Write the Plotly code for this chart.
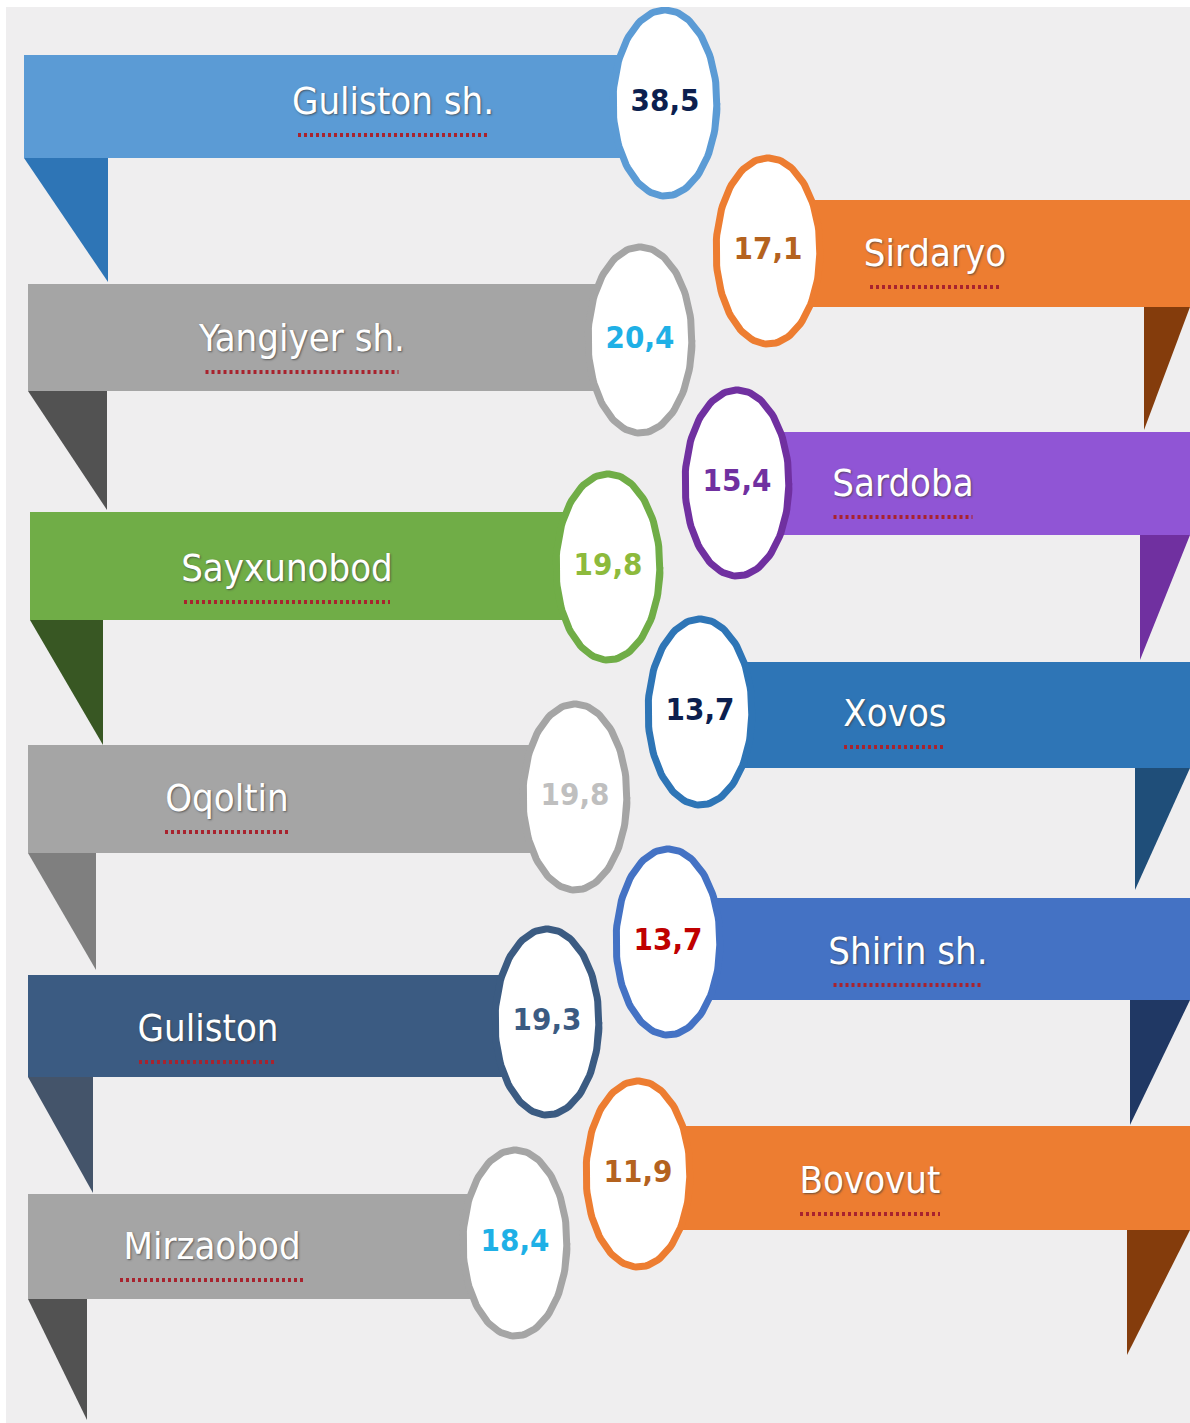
import numpy as np
import plotly.graph_objects as go

# ---------------- data ----------------
left_names = ["Guliston sh.", "Yangiyer sh.", "Sayxunobod", "Oqoltin", "Guliston", "Mirzaobod"]
left_values = [38.5, 20.4, 19.8, 19.8, 19.3, 18.4]
right_names = ["Sirdaryo", "Sardoba", "Xovos", "Shirin sh.", "Bovovut"]
right_values = [17.1, 15.4, 13.7, 13.7, 11.9]

# ---------------- layout (pixel-like data space) ----------------
W, H = 1190, 1423
X0, Y0 = 6, 7
# left ribbons
L_top = [55, 284, 512, 745, 975, 1194]
L_bot = [158, 391, 620, 853, 1077, 1299]
L_x = [24, 28, 30, 28, 28, 28]
L_fold_x = [108, 107, 103, 96, 93, 87]
L_fold_end = [282, 510, 745, 970, 1193, 1420]
L_cx = [665, 640, 608, 575, 547, 515]
L_cy = [103, 340, 567, 797, 1022, 1243]
L_lab_x = [393, 302, 287, 227, 208, 212]
L_lab_y = [104, 341, 571, 801, 1031, 1249]
L_lab_w = [190, 193, 206, 124, 138, 184]
# right ribbons
R_top = [200, 432, 662, 898, 1126]
R_bot = [307, 535, 768, 1000, 1230]
R_fold_x = [1144, 1140, 1135, 1130, 1127]
R_fold_end = [430, 660, 890, 1125, 1355]
R_cx = [768, 737, 700, 668, 638]
R_cy = [251, 483, 712, 942, 1174]
R_lab_x = [935, 903, 895, 908, 870]
R_lab_y = [256, 486, 716, 954, 1183]
R_lab_w = [130, 139, 102, 149, 140]

ELL_W, ELL_H = 104, 186
UL_OFF = 31

# styles
L_bar_col = ['#5b9bd5', '#a5a5a5', '#70ad47', '#a5a5a5', '#3b5b82', '#a5a5a5']
L_fold_col = ['#2e75b6', '#525252', '#385723', '#7f7f7f', '#44546a', '#525252']
L_ring_col = ['#5b9bd5', '#a5a5a5', '#70ad47', '#a5a5a5', '#3b5b82', '#a5a5a5']
L_val_col = ['#0c1f4f', '#1fb0e6', '#8dba3c', '#bfbfbf', '#3b5b82', '#1fb0e6']
R_bar_col = ['#ed7d31', '#9055d5', '#2e75b6', '#4472c4', '#ed7d31']
R_fold_col = ['#843c0c', '#7030a0', '#1f4e79', '#203864', '#843c0c']
R_ring_col = ['#ed7d31', '#7030a0', '#2e75b6', '#4472c4', '#ed7d31']
R_val_col = ['#b4621e', '#7030a0', '#0c1f4f', '#c00000', '#b4621e']

LAB_FONT = "DejaVu Sans Condensed, Liberation Sans Narrow, Arial Narrow, sans-serif"

fig = go.Figure()

# folds (triangles)
for i in range(len(left_names)):
    fig.add_trace(go.Scatter(
        x=[L_x[i], L_fold_x[i], L_fold_x[i], L_x[i]],
        y=[L_bot[i], L_bot[i], L_fold_end[i], L_bot[i]],
        mode='lines', fill='toself', fillcolor=L_fold_col[i],
        line=dict(width=0, color=L_fold_col[i]), hoverinfo='skip', showlegend=False))
for i in range(len(right_names)):
    fig.add_trace(go.Scatter(
        x=[R_fold_x[i], W, R_fold_x[i], R_fold_x[i]],
        y=[R_bot[i], R_bot[i], R_fold_end[i], R_bot[i]],
        mode='lines', fill='toself', fillcolor=R_fold_col[i],
        line=dict(width=0, color=R_fold_col[i]), hoverinfo='skip', showlegend=False))

# ribbons as horizontal bars
fig.add_trace(go.Bar(
    orientation='h',
    y=[(t + b) / 2 for t, b in zip(L_top, L_bot)],
    x=[cx - x for cx, x in zip(L_cx, L_x)],
    base=L_x,
    width=[b - t for t, b in zip(L_top, L_bot)],
    marker=dict(color=L_bar_col, line=dict(width=0)),
    customdata=left_values, hovertext=left_names,
    hovertemplate='%{hovertext}: %{customdata}<extra></extra>',
    showlegend=False))
fig.add_trace(go.Bar(
    orientation='h',
    y=[(t + b) / 2 for t, b in zip(R_top, R_bot)],
    x=[W - cx for cx in R_cx],
    base=R_cx,
    width=[b - t for t, b in zip(R_top, R_bot)],
    marker=dict(color=R_bar_col, line=dict(width=0)),
    customdata=right_values, hovertext=right_names,
    hovertemplate='%{hovertext}: %{customdata}<extra></extra>',
    showlegend=False))

# spell-check style wavy underlines under the labels
for lx, ly, lw in zip(L_lab_x + R_lab_x, L_lab_y + R_lab_y, L_lab_w + R_lab_w):
    fig.add_trace(go.Scatter(
        x=[lx - lw / 2, lx + lw / 2], y=[ly + UL_OFF, ly + UL_OFF],
        mode='lines', line=dict(color='#a8232e', width=4, dash='3px,3px'),
        hoverinfo='skip', showlegend=False))

# ellipses
t = np.linspace(0, 2 * np.pi + 0.3, 140)
def ellipse(cx, cy, col):
    fig.add_trace(go.Scatter(
        x=cx + ELL_W / 2 * np.cos(t), y=cy + ELL_H / 2 * np.sin(t),
        mode='lines', fill='toself', fillcolor='white',
        line=dict(color=col, width=7), hoverinfo='skip', showlegend=False))

for i in range(len(left_names)):
    ellipse(L_cx[i], L_cy[i], L_ring_col[i])
for i in range(len(right_names)):
    ellipse(R_cx[i], R_cy[i], R_ring_col[i])

def fmt(v):
    return f"{v:.1f}".replace('.', ',')

# value labels
fig.add_trace(go.Scatter(
    x=L_cx + R_cx, y=L_cy + R_cy, mode='text',
    text=[fmt(v) for v in left_values + right_values],
    textposition='middle center',
    textfont=dict(family=LAB_FONT, size=31, color=L_val_col + R_val_col, weight='bold'),
    hoverinfo='skip', showlegend=False))

# ribbon name labels
fig.add_trace(go.Scatter(
    x=L_lab_x + R_lab_x, y=L_lab_y + R_lab_y, mode='text',
    text=left_names + right_names,
    textposition='middle center',
    textfont=dict(family=LAB_FONT, size=38, color='white',
                  shadow='1px 1px 2px rgba(60,60,60,0.7)'),
    hoverinfo='skip', showlegend=False))

fig.update_layout(
    width=W, height=H, autosize=False,
    margin=dict(l=X0, r=0, t=Y0, b=0, pad=0),
    paper_bgcolor='white', plot_bgcolor='#efeeef',
    bargap=0, barmode='overlay',
    xaxis=dict(range=[X0, W], visible=False, fixedrange=True),
    yaxis=dict(range=[H, Y0], visible=False, fixedrange=True),
    showlegend=False,
)

fig.write_html("out.html", config={'displayModeBar': False},
               post_script="document.body.style.margin='0';document.body.style.overflow='hidden';")
